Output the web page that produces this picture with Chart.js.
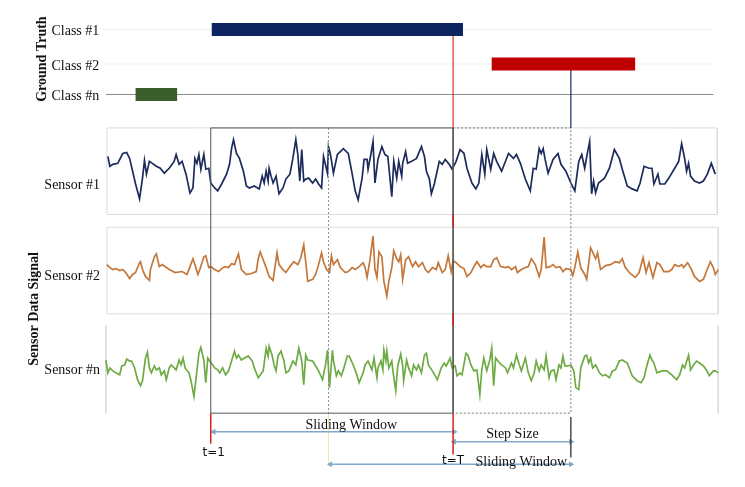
<!DOCTYPE html>
<html>
<head>
<meta charset="utf-8">
<script src="https://cdn.jsdelivr.net/npm/chart.js@4.4.1/dist/chart.umd.min.js"></script>
<style>
  body { margin: 0; background: #fff; }
</style>
</head>
<body>
<canvas id="myChart" width="745" height="487"></canvas>
<script>
// time axis: arbitrary sample units
const sensor1Time = [0,2,5,10,15,19,22,25,28,32,35,37,39,42,45,49,53,57,62,67,69,72,75,79,83,86,88,90,92,94,97,99,102,104,108,111,115,120,123,125,127,130,133,137,140,143,148,153,156,158,160,162,163,165,167,170,173,177,180,184,187,190,192,194,196,198,200,203,207,210,213,216,218,222,223,225,228,232,235,238,243,247,250,253,257,259,262,263,266,268,270,273,277,280,283,287,289,292,294,297,298,301,303,307,312,317,320,322,325,327,330,335,338,341,345,348,352,356,360,363,368,372,375,378,381,383,387,390,393,398,405,410,413,417,422,427,430,433,436,438,440,442,445,450,455,458,463,468,472,476,479,482,485,487,489,491,493,496,502,507,512,517,520,525,530,535,538,542,547,550,552,556,558,563,567,573,577,580,583,585,587,589,593,598,602,606,610,614]
const sensor1Value = [15,5,7,8,18,19,13,0,-13,-28,-7,11,-3,10,8,5,3,-2,3,10,17,7,10,-3,-22,-17,13,8,17,2,17,2,3,-12,-17,-20,-13,-3,7,23,32,18,13,0,-15,-17,-15,-18,-5,-12,0,-10,3,-5,-12,-5,-23,-17,-8,-3,13,32,17,-10,22,-10,-8,-7,-12,-8,-13,-17,15,-2,25,17,-2,17,20,23,18,-3,-20,-29,-7,12,12,2,18,30,-12,12,25,17,15,-26,10,-7,10,-5,8,20,8,10,13,25,15,0,-8,-23,-13,10,7,12,7,2,10,22,18,3,-12,-18,-12,17,-3,22,2,18,10,0,18,13,17,8,-8,-20,3,2,23,18,23,12,-2,12,18,7,0,-12,-20,10,17,3,20,30,-23,-10,-22,-12,-7,3,22,13,2,-15,-18,-20,-12,5,3,3,-13,-3,-13,-13,-7,3,10,28,13,0,8,-5,-10,-12,-10,-3,8,-3]

const sensor2Time = [-1,2,5,8,12,15,18,22,25,28,32,33,35,38,42,43,47,49,52,55,62,68,75,80,83,86,88,91,93,97,99,102,104,108,112,115,118,122,125,128,132,135,140,145,150,152,154,157,160,163,167,169,171,173,177,180,184,188,192,195,198,200,202,207,210,213,216,218,221,224,226,228,232,235,240,243,247,250,254,258,260,262,265,268,270,272,274,277,279,282,284,287,289,292,294,296,298,301,304,308,311,314,318,321,324,328,332,334,338,341,344,347,349,352,356,360,363,367,370,373,377,380,383,387,390,393,397,402,405,408,412,414,418,422,425,428,432,436,438,441,443,447,450,453,457,460,463,468,470,472,475,478,482,484,488,490,493,495,498,503,508,513,517,520,523,528,533,537,541,544,547,551,555,558,562,567,570,573,577,580,582,586,590,593,598,602,605,609,612,614,617]
const sensor2Value = [5,2,0,1,-1,0,-3,-9,-5,-3,7,8,0,-7,-11,0,13,16,3,5,0,-3,-2,-5,3,11,5,-5,0,13,14,2,3,0,-2,1,3,2,6,5,16,0,-5,-4,-2,11,18,10,2,-7,-11,3,17,5,0,-3,3,8,5,12,25,8,-12,-10,-5,5,17,8,0,-3,14,5,10,2,-3,-2,2,0,3,7,2,-8,10,34,0,-8,18,13,-12,-27,-12,2,19,11,8,15,-10,10,13,3,8,3,7,0,-3,2,0,7,-3,0,14,-2,9,7,3,1,-7,-3,3,8,2,5,3,3,10,12,3,2,3,0,3,-3,0,2,3,11,5,-7,0,33,2,3,5,2,3,-2,1,0,-6,2,18,2,-5,-10,22,18,11,17,0,4,5,8,7,11,2,-4,-8,-3,12,-3,7,-8,7,5,-2,-2,0,5,3,5,2,7,0,-7,-12,-10,-2,8,2,-5,0]

const sensorNTime = [-2,0,2,5,8,12,14,17,19,22,24,27,30,33,35,38,40,42,44,47,49,52,54,57,59,62,64,67,69,72,74,76,78,82,84,87,89,92,94,97,99,101,103,106,108,111,113,116,119,122,125,128,130,132,135,138,142,146,148,152,157,160,162,163,166,168,170,172,175,178,180,183,187,190,193,196,198,200,202,207,210,213,217,220,222,224,227,228,231,233,236,238,242,244,248,251,254,258,260,263,267,269,272,273,276,278,279,281,282,284,287,288,291,293,296,298,299,302,304,307,309,312,314,317,320,322,324,328,333,337,340,342,346,348,351,353,356,358,362,364,367,370,373,376,378,380,383,386,388,390,392,396,398,402,404,408,410,413,416,418,422,425,428,431,433,436,438,441,443,446,448,451,453,456,458,460,462,465,468,471,473,476,478,482,484,486,488,490,493,497,500,503,507,510,513,517,520,525,530,535,539,542,545,548,550,552,555,560,565,570,575,578,581,583,587,589,592,595,598,602,605,608,612,614,617]
const sensorNValue = [8,-5,0,-3,-5,-7,2,3,9,7,7,0,-12,-18,-13,10,16,0,-5,2,-2,0,-7,-3,-12,0,3,0,-2,8,3,10,0,-5,-13,-29,-12,15,21,8,-15,10,7,3,0,-2,-5,0,-7,-3,7,17,10,13,8,10,12,7,0,-10,-3,20,12,22,13,3,-3,12,17,7,-5,-3,7,3,20,7,-17,13,8,7,2,-3,-12,3,18,-20,18,8,-8,-3,-8,-2,12,12,3,-5,-15,-5,3,7,-2,10,-10,0,7,-2,18,7,17,0,7,-2,-23,2,14,2,-13,8,0,-8,3,-2,3,-5,13,15,3,-3,-12,0,5,2,10,0,2,-8,-5,-7,15,13,3,-3,-2,-27,-2,10,-3,8,20,-18,10,5,3,0,-5,5,0,13,3,-3,10,-5,-13,-5,7,-3,3,-2,12,-10,-3,-2,-12,3,0,12,2,2,3,-3,-20,-22,0,12,13,5,10,0,3,-5,-8,-7,-10,-3,-2,7,8,5,-8,-13,-15,-10,3,13,8,5,-5,-3,-3,-7,-12,-7,3,0,13,-2,3,7,5,2,-2,-8,-3,-3,-5]

const classNames = ['Class #1', 'Class #2', 'Class #n']
const classStart = [105, 388, 28]
const classEnd = [359, 533, 70]
const classColors = ['#0d2461', '#c00000', '#3b5e2b']

const sensorNames = ['Sensor #1', 'Sensor #2', 'Sensor #n']
const sensorColors = ['#1c2b5c', '#c4773a', '#6fab45']

const windowStart = 104
const windowLength = 245
const stepSize = 119

// layout (vertical positions in canvas units)
const classRowY = [26, 61, 92]
const sensorBaseY = [170, 270, 370]
const panelTop = [126, 227, 327]
const panelBottom = [214, 315, 416]
const boxTop = 126, boxBottom = 416

const tEnd = windowStart + windowLength          // t=T
const win2Start = windowStart + stepSize
const win2End = tEnd + stepSize

function seg(points, color, width, dash, order) {
    return {
        data: points.map(p => ({ x: p[0], y: p[1] })),
        borderColor: color,
        borderWidth: width,
        borderDash: dash || [],
        borderCapStyle: 'butt',
        pointRadius: 0,
        tension: 0,
        fill: false,
        order: order === undefined ? 1 : order
    }
}

function arrow(t0, t1, y, color) {
    let d = seg([[t0, y], [t1, y]], color, 1.5)
    d.pointRadius = 3.5
    d.pointStyle = 'triangle'
    d.pointRotation = [-90, 90]
    d.pointBackgroundColor = color
    d.pointBorderColor = color
    d.pointBorderWidth = 0
    return d
}

function signal(times, values, base, color) {
    return {
        data: times.map((t, i) => ({ x: t, y: base - values[i] })),
        borderColor: color,
        borderWidth: 1.7,
        pointRadius: 0,
        tension: 0,
        fill: false,
        order: 3
    }
}

let datasets = []

// ground truth rows
datasets.push(seg([[-5, classRowY[0]], [610, classRowY[0]]], '#eeeeee', 1, [], 5))
datasets.push(seg([[-5, classRowY[1]], [610, classRowY[1]]], '#f2f2f2', 1, [], 5))
datasets.push(seg([[-2, classRowY[2]], [612, classRowY[2]]], '#8a8a8a', 1, [], 5))
classNames.forEach((c, i) => {
    datasets.push(seg([[classStart[i], classRowY[i]], [classEnd[i], classRowY[i]]], classColors[i], 13, [], 0))
})

// sensor panels
datasets.push(seg([[-1, panelTop[0]], [616, panelTop[0]], [616, panelBottom[0]], [-1, panelBottom[0]], [-1, panelTop[0]]], '#dcdcdc', 1, [], 6))
datasets.push(seg([[-1, panelTop[1]], [617, panelTop[1]], [617, panelBottom[1]], [-1, panelBottom[1]], [-1, panelTop[1]]], '#dcdcdc', 1, [], 6))
datasets.push(seg([[-2, panelTop[2]], [-2, panelBottom[2]]], '#dcdcdc', 1, [], 6))
datasets.push(seg([[617, panelTop[2]], [617, panelBottom[2]]], '#dcdcdc', 1, [], 6))

// signals
datasets.push(signal(sensor1Time, sensor1Value, sensorBaseY[0], sensorColors[0]))
datasets.push(signal(sensor2Time, sensor2Value, sensorBaseY[1], sensorColors[1]))
datasets.push(signal(sensorNTime, sensorNValue, sensorBaseY[2], sensorColors[2]))

// second sliding window (dashed)
datasets.push(seg([[tEnd, boxTop], [win2End, boxTop], [win2End, boxBottom], [tEnd, boxBottom]], '#7a7a7a', 1, [2, 2], 2))
datasets.push(seg([[win2Start, boxTop], [win2Start, boxBottom]], '#8a8a8a', 1, [2, 2], 2))
datasets.push(seg([[win2Start, boxBottom], [win2Start, 470]], '#efe6b0', 1, [], 2))

// first sliding window (solid)
datasets.push(seg([[windowStart, boxBottom], [windowStart, boxTop], [tEnd, boxTop], [tEnd, boxBottom], [windowStart, boxBottom]], '#555555', 1, [], 1))
datasets.push(seg([[windowStart, boxBottom], [windowStart, 447]], '#d62020', 1.5, [], 0))
datasets.push(seg([[tEnd, classRowY[0] + 6], [tEnd, boxTop]], '#e0403a', 1.3, [], 0))
datasets.push(seg([[tEnd, panelBottom[0]], [tEnd, panelTop[1]]], '#d62020', 1.5, [], 0))
datasets.push(seg([[tEnd, panelBottom[1]], [tEnd, panelTop[2]]], '#d62020', 1.5, [], 0))
datasets.push(seg([[tEnd, boxBottom], [tEnd, 458]], '#d62020', 1.5, [], 0))
datasets.push(seg([[win2End, classRowY[1] + 6], [win2End, boxTop]], '#2a3f66', 1.3, [], 0))
datasets.push(seg([[win2End, 420], [win2End, 461]], '#333333', 1.3, [], 0))

// arrows
datasets.push(arrow(windowStart + 3, tEnd + 1, 435, '#82a9cc'))
datasets.push(arrow(tEnd + 1, win2End, 445, '#82a9cc'))
datasets.push(arrow(win2Start + 2, win2End, 468, '#82a9cc'))

const labelsPlugin = {
    id: 'labels',
    afterDatasetsDraw(chart) {
        const ctx = chart.ctx
        const x = chart.scales.x
        const y = chart.scales.y
        const px = t => x.getPixelForValue(t)
        const py = v => y.getPixelForValue(v)
        ctx.save()
        ctx.fillStyle = '#111'
        ctx.textBaseline = 'middle'
        ctx.font = '14px "Liberation Serif"'
        ctx.textAlign = 'left'
        classNames.forEach((c, i) => ctx.fillText(c, px(-57), py(classRowY[i] + 2)))
        ctx.textAlign = 'right'
        const sensorLabelY = [184, 277, 372]
        sensorNames.forEach((s, i) => ctx.fillText(s, px(-8), py(sensorLabelY[i])))

        ctx.textAlign = 'center'
        ctx.fillText('Sliding Window', px(246), py(428))
        ctx.fillText('Step Size', px(409), py(438))
        ctx.fillText('Sliding Window', px(418), py(466))

        ctx.font = '12px "DejaVu Sans"'
        ctx.fillText('t=1', px(107), py(456))
        ctx.fillText('t=T', px(349), py(464))

        ctx.font = 'bold 14px "Liberation Serif"'
        ctx.save()
        ctx.translate(px(-66), py(56))
        ctx.rotate(-Math.PI / 2)
        ctx.fillText('Ground Truth', 0, 0)
        ctx.restore()
        ctx.save()
        ctx.translate(px(-74), py(310))
        ctx.rotate(-Math.PI / 2)
        ctx.fillText('Sensor Data Signal', 0, 0)
        ctx.restore()
        ctx.restore()
    }
}

const chartEl = document.getElementById('myChart')
let myChart = new Chart(chartEl, {
    type: 'line',
    data: { datasets: datasets },
    options: {
        responsive: false,
        animation: false,
        devicePixelRatio: 1,
        layout: { padding: 0 },
        plugins: { legend: { display: false }, tooltip: { enabled: false } },
        scales: {
            x: { type: 'linear', min: -105, max: 640, display: false },
            y: { type: 'linear', min: 0, max: 487, reverse: true, display: false }
        }
    },
    plugins: [labelsPlugin]
})
</script>
</body>
</html>
